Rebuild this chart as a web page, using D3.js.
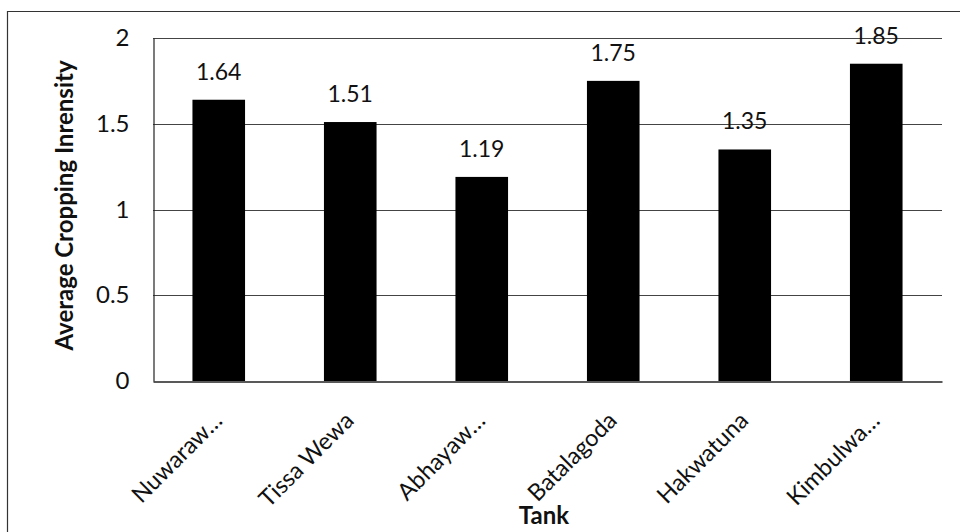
<!DOCTYPE html>
<html>
<head>
<meta charset="utf-8">
<script src="https://cdn.jsdelivr.net/npm/d3@7"></script>
<style>
  html, body { margin: 0; padding: 0; background: #fff; }
  svg { display: block; }
  text { font-family: Lato, "Open Sans", sans-serif; fill: #111; }
</style>
</head>
<body>
<svg id="chart" width="960" height="532"></svg>
<script>
// Average cropping intensity per tank
const tanks = ["Nuwaraw\u2026", "Tissa Wewa", "Abhayaw\u2026", "Batalagoda", "Hakwatuna", "Kimbulwa\u2026"];
const intensity = [1.64, 1.51, 1.19, 1.75, 1.35, 1.85];
const yTicks = [0, 0.5, 1, 1.5, 2];
const yTitle = "Average Cropping Inrensity";
const xTitle = "Tank";

const svg = d3.select("#chart");
const plot = { left: 153, right: 942, top: 38, bottom: 381 };

// outer frame (top and left edges)
svg.append("path")
  .attr("d", "M7.5,532 L7.5,11.5 L960,11.5")
  .attr("fill", "none").attr("stroke", "#333").attr("stroke-width", 1.2);

const x = d3.scaleBand().domain(tanks).range([plot.left, plot.right]).paddingInner(0.6).paddingOuter(0.3);
const y = d3.scaleLinear().domain([0, 2]).range([plot.bottom, plot.top]);

// horizontal gridlines
svg.append("g").selectAll("line").data(yTicks.filter(d => d > 0)).join("line")
  .attr("x1", plot.left).attr("x2", plot.right)
  .attr("y1", d => Math.round(y(d)) + 0.5).attr("y2", d => Math.round(y(d)) + 0.5)
  .attr("stroke", "#444").attr("stroke-width", 1);

// bars
svg.append("g").selectAll("rect").data(intensity).join("rect")
  .attr("x", (d, i) => x(tanks[i]))
  .attr("width", x.bandwidth())
  .attr("y", d => y(d))
  .attr("height", d => y(0) - y(d))
  .attr("fill", "#000");

// value labels
svg.append("g").selectAll("text").data(intensity).join("text")
  .attr("x", (d, i) => x(tanks[i]) + x.bandwidth() / 2)
  .attr("y", d => y(d) - 20)
  .attr("text-anchor", "middle")
  .style("font-size", "23px")
  .text(d => d.toFixed(2));

// y axis
const yAxis = svg.append("g")
  .attr("transform", `translate(${plot.left + 0.5},0)`)
  .call(d3.axisLeft(y).tickValues(yTicks).tickFormat(d3.format("")).tickSize(0).tickPadding(24));
yAxis.select(".domain").attr("stroke", "#222").attr("stroke-width", 1.2);
yAxis.selectAll("text").style("font-size", "24px").style("font-family", "Lato, 'Open Sans', sans-serif").attr("fill", "#111");

// x axis baseline
const xAxis = svg.append("g")
  .attr("transform", `translate(0,${Math.round(y(0)) + 0.5})`)
  .call(d3.axisBottom(x).tickSize(0).tickFormat(""));
xAxis.select(".domain").attr("stroke", "#222").attr("stroke-width", 1.5);

// rotated category labels, anchored at the end of their baseline
svg.append("g").selectAll("text").data(tanks).join("text")
  .attr("transform", d => `translate(${x(d) + x.bandwidth() / 2 + 5},${plot.bottom + 41}) rotate(-45)`)
  .attr("text-anchor", "end")
  .style("font-size", "23.5px")
  .text(d => d);

// axis titles
svg.append("text")
  .attr("transform", `translate(73,${(plot.top + plot.bottom) / 2 - 4}) rotate(-90)`)
  .attr("text-anchor", "middle")
  .style("font-size", "24px").style("font-weight", "bold")
  .text(yTitle);

svg.append("text")
  .attr("x", 544).attr("y", 524)
  .attr("text-anchor", "middle")
  .style("font-size", "24px").style("font-weight", "bold")
  .text(xTitle);
</script>
</body>
</html>
